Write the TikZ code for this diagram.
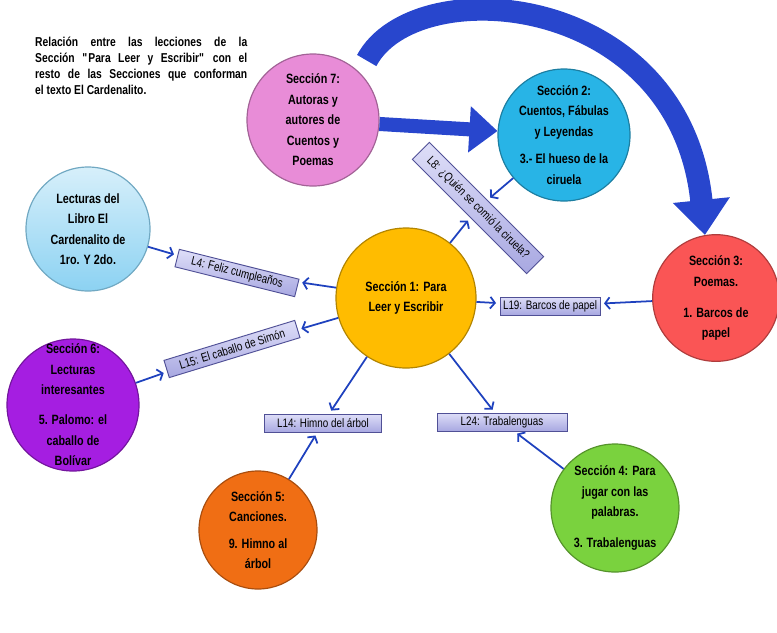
\documentclass[tikz,border=0pt]{standalone}
\usepackage{fontspec}
\setmainfont{Liberation Sans}[FakeStretch=0.8]
\usepackage{xcolor}
\usepackage{tikz}
\usetikzlibrary{arrows.meta}

\definecolor{secpink}{RGB}{232,140,215}
\definecolor{secblue}{RGB}{40,180,230}
\definecolor{seclight}{RGB}{140,210,242}
\definecolor{secorange}{RGB}{255,188,0}
\definecolor{secred}{RGB}{250,85,85}
\definecolor{secpurple}{RGB}{165,30,225}
\definecolor{secdark}{RGB}{240,110,20}
\definecolor{secgreen}{RGB}{122,210,62}
\definecolor{lineblue}{RGB}{30,65,190}
\definecolor{fatblue}{RGB}{40,70,205}
\definecolor{lbltop}{RGB}{222,222,248}
\definecolor{lblbot}{RGB}{168,168,225}
\definecolor{lblborder}{RGB}{80,80,150}

\begin{document}
\begin{tikzpicture}[x=0.03cm, y=-0.03cm,
  sec/.style={circle, draw=#1!70!black, fill=#1, line width=1pt, inner sep=0pt},
  sectext/.style={align=center, inner sep=0pt, font=\fontsize{11.5}{17.5}\selectfont\bfseries},
  lbl/.style={draw=lblborder, top color=lbltop, bottom color=lblbot, line width=0.8pt,
    minimum height=0.54cm, inner sep=1pt, font=\fontsize{10.5}{12}\selectfont},
  conn/.style={draw=lineblue, line width=1.5pt, -{Straight Barb[length=4pt,width=10pt]}, shorten >=3pt},
  fat/.style={draw=fatblue, line width=12pt, -{Triangle[length=24pt,width=38pt]}},
  bigarc/.style={draw=fatblue, line width=19pt, -{Triangle[length=30pt,width=47pt]}, shorten <=12pt}]

\useasboundingbox (0,0) rectangle (777,632);

\node[anchor=north west, inner sep=0pt, text width=6.36cm, align=justify,
  font=\fontsize{11}{13.7}\selectfont\bfseries] (title) at (35,37)
  {Relación entre las lecciones de la\linebreak Sección \textquotedbl Para Leer y Escribir\textquotedbl{} con el\linebreak
   resto de las Secciones que conforman\linebreak el texto El Cardenalito.};

\node[sec=secpink, minimum size=3.96cm] (s7) at (313,120) {};
\node[sectext] (t7) at (s7) {Sección 7:\\Autoras y\\autores de\\Cuentos y\\Poemas};
\node[sec=secblue, minimum size=3.96cm] (s2) at (564,135) {};
\node[sectext] (t2) at (s2) {Sección 2:\\Cuentos, Fábulas\\y Leyendas\\[6pt]3.- El hueso de la\\ciruela};
\node[circle, draw=seclight!80!black, top color=seclight!35!white, bottom color=seclight,
  line width=1pt, inner sep=0pt, minimum size=3.72cm] (lect) at (88,229) {};
\node[sectext] (tl) at (lect) {Lecturas del\\Libro El\\Cardenalito de\\1ro. Y 2do.};
\node[sec=secorange, minimum size=4.2cm] (s1) at (406,298) {};
\node[sectext] (t1) at (s1) {Sección 1: Para\\Leer y Escribir};
\node[sec=secred, minimum size=3.8cm] (s3) at (716,298) {};
\node[sectext] (t3) at (s3) {Sección 3:\\Poemas.\\[9pt]1. Barcos de\\papel};
\node[sec=secpurple, minimum size=3.96cm] (s6) at (73,405) {};
\node[sectext] (t6) at (s6) {Sección 6:\\Lecturas\\interesantes\\[8pt]5. Palomo: el\\caballo de\\Bolívar};
\node[sec=secdark, minimum size=3.54cm] (s5) at (258,530) {};
\node[sectext] (t5) at (s5) {Sección 5:\\Canciones.\\[5pt]9. Himno al\\árbol};
\node[sec=secgreen, minimum size=3.84cm] (s4) at (615,508) {};
\node[sectext] (t4) at (s4) {Sección 4: Para\\jugar con las\\palabras.\\[9pt]3. Trabalenguas};

\node[lbl, minimum width=3.7cm, rotate=-14] (l4) at (237,273) {L4: Feliz cumpleaños};
\node[lbl, minimum width=4.1cm, rotate=17] (l15) at (232,349) {L15: El caballo de Simón};
\node[lbl, minimum width=3.0cm] (l19) at (550,306) {L19: Barcos de papel};
\node[lbl, minimum width=3.5cm] (l14) at (323,423) {L14: Himno del árbol};
\node[lbl, minimum width=3.9cm] (l24) at (502,422) {L24: Trabalenguas};
\node[lbl, minimum width=4.85cm, minimum height=0.72cm, rotate=-45] (l8) at (478,208) {L8: ¿Quién se comió la ciruela?};

\draw[conn] (lect) -- (l4);
\draw[conn] (s1) -- (l4);
\draw[conn] (s1) -- (l15);
\draw[conn] (s6) -- (l15);
\draw[conn] (s1) -- (l19);
\draw[conn] (s3) -- (l19);
\draw[conn] (s1) -- (l8);
\draw[conn] (s2) -- (l8);
\draw[conn] (s1) -- (l14);
\draw[conn] (s5) -- (l14);
\draw[conn] (s1) -- (l24);
\draw[conn] (s4) -- (l24);

\draw[fat] (s7) -- (s2);
\draw[bigarc] (s7.45) .. controls (415,-30) and (680,-10) .. (s3.100);
\end{tikzpicture}
\end{document}
